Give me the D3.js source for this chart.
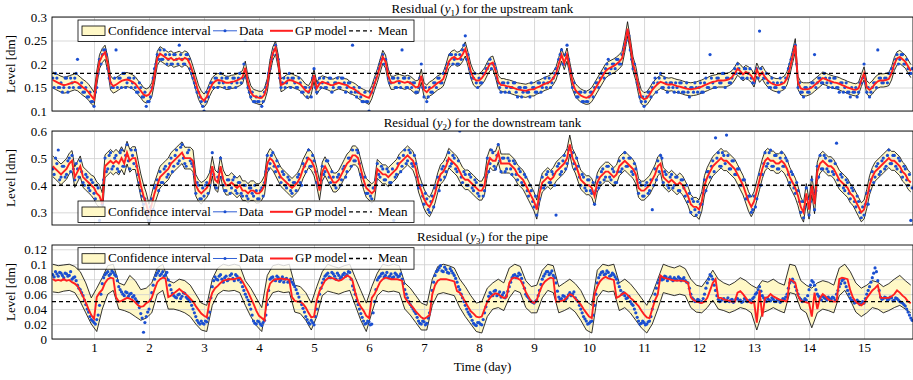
<!DOCTYPE html>
<html>
<head>
<meta charset="utf-8">
<script src="https://cdn.jsdelivr.net/npm/d3@7"></script>
<style>
  body { margin: 0; background: #fff; }
  svg { display: block; font-family: "Liberation Serif", "Times New Roman", serif; }
</style>
</head>
<body>
<div id="app"></div>
<script>
// residual series sampled every 0.05 day starting at day 0.25,
// the *Mid data arrays are the samples half a step later
const t0 = 0.25, dt = 0.05
// y3 confidence bounds sampled every 0.1 day starting at day 0.25
const tb0 = 0.25, dtb = 0.1

const dayTicks = [1, 2, 3, 4, 5, 6, 7, 8, 9, 10, 11, 12, 13, 14, 15]
const yTicks1 = [0.1, 0.15, 0.2, 0.25, 0.3]
const yTicks2 = [0.3, 0.4, 0.5, 0.6]
const yTicks3 = [0, 0.02, 0.04, 0.06, 0.08, 0.1, 0.12]
const mean1 = 0.18, mean2 = 0.40, mean3 = 0.05

// y1, upstream tank
const gp1 = [
  0.166,0.163,0.160,0.157,0.155,0.156,0.158,0.160,0.162,0.160,0.155,0.150,0.146,0.140,0.132,
  0.125,0.170,0.205,0.218,0.225,0.200,0.160,0.153,0.156,0.160,0.164,0.166,0.167,0.165,0.162,0.158,0.150,0.143,0.135,0.132,
  0.135,0.145,0.175,0.212,0.222,0.218,0.214,0.210,0.213,0.208,0.210,0.212,0.208,0.213,0.210,0.198,0.180,0.160,0.140,0.128,
  0.122,0.130,0.145,0.157,0.163,0.166,0.165,0.163,0.160,0.160,0.162,0.163,0.165,0.168,0.172,0.192,0.160,0.140,0.132,0.130,
  0.128,0.128,0.135,0.155,0.195,0.222,0.235,0.205,0.155,0.158,0.163,0.166,0.165,0.162,0.160,0.157,0.150,0.143,0.140,0.150,
  0.176,0.148,0.158,0.162,0.160,0.158,0.155,0.155,0.158,0.160,0.158,0.156,0.155,0.150,0.148,0.145,0.140,0.136,0.133,0.130,
  0.128,0.140,0.158,0.175,0.195,0.215,0.205,0.175,0.160,0.160,0.163,0.164,0.162,0.160,0.162,0.160,0.155,0.150,0.152,0.175,
  0.145,0.140,0.147,0.150,0.155,0.160,0.163,0.168,0.185,0.205,0.212,0.215,0.210,0.212,0.220,0.232,0.210,0.185,0.170,0.165,
  0.165,0.170,0.178,0.190,0.200,0.203,0.185,0.162,0.155,0.155,0.153,0.152,0.150,0.148,0.146,0.145,0.144,0.143,0.145,0.146,
  0.146,0.150,0.152,0.155,0.158,0.160,0.163,0.170,0.180,0.200,0.220,0.202,0.220,0.190,0.160,0.145,0.138,0.133,0.130,0.128,
  0.130,0.135,0.145,0.155,0.165,0.175,0.185,0.190,0.193,0.196,0.200,0.205,0.212,0.240,0.275,0.240,0.200,0.180,0.150,0.130,
  0.125,0.127,0.135,0.145,0.152,0.158,0.162,0.160,0.157,0.156,0.157,0.155,0.153,0.152,0.150,0.148,0.147,0.146,0.147,0.148,
  0.150,0.152,0.155,0.157,0.160,0.162,0.163,0.165,0.165,0.165,0.166,0.168,0.172,0.180,0.190,0.185,0.178,0.183,0.180,0.175,
  0.165,0.188,0.175,0.182,0.172,0.165,0.160,0.157,0.155,0.155,0.157,0.160,0.170,0.190,0.215,0.240,0.160,0.148,0.146,0.146,
  0.147,0.150,0.155,0.160,0.165,0.170,0.168,0.165,0.163,0.161,0.160,0.158,0.155,0.153,0.150,0.148,0.146,0.145,0.148,0.165,
  0.180,0.150,0.145,0.150,0.158,0.163,0.165,0.165,0.166,0.168,0.180,0.200,0.212,0.215,0.210,0.205,0.195,0.185
]
const data1 = [
  0.17,0.18,0.15,0.16,0.15,0.17,0.15,0.16,0.17,0.21,0.15,0.14,0.15,0.13,0.12,
  0.11,0.15,0.21,0.22,0.23,0.19,0.16,0.15,0.23,0.17,0.15,0.18,0.16,0.17,0.16,0.15,0.14,0.15,0.13,0.11,
  0.12,0.15,0.19,0.22,0.23,0.21,0.22,0.21,0.20,0.22,0.21,0.24,0.21,0.20,0.22,0.19,0.17,0.15,0.14,0.12,
  0.10,0.14,0.15,0.16,0.17,0.15,0.18,0.16,0.17,0.15,0.16,0.17,0.16,0.18,0.17,0.25,0.15,0.13,0.12,0.13,
  0.12,0.11,0.14,0.16,0.19,0.22,0.24,0.21,0.15,0.17,0.16,0.18,0.17,0.16,0.15,0.16,0.14,0.15,0.14,0.13,
  0.19,0.14,0.17,0.16,0.15,0.16,0.17,0.15,0.16,0.15,0.17,0.16,0.15,0.16,0.24,0.14,0.14,0.13,0.12,0.12,
  0.10,0.14,0.16,0.18,0.20,0.22,0.21,0.17,0.16,0.17,0.15,0.16,0.23,0.17,0.15,0.16,0.16,0.14,0.15,0.20,
  0.13,0.12,0.15,0.14,0.16,0.17,0.16,0.18,0.19,0.20,0.22,0.21,0.20,0.22,0.23,0.26,0.22,0.18,0.17,0.16,
  0.17,0.16,0.18,0.19,0.21,0.20,0.19,0.16,0.14,0.16,0.15,0.14,0.15,0.16,0.13,0.15,0.14,0.15,0.14,0.16,
  0.15,0.14,0.16,0.15,0.17,0.16,0.15,0.17,0.19,0.21,0.23,0.20,0.24,0.19,0.15,0.14,0.13,0.14,0.12,0.12,
  0.13,0.14,0.15,0.16,0.17,0.18,0.19,0.21,0.19,0.20,0.21,0.20,0.22,0.24,0.27,0.23,0.19,0.18,0.15,0.12,
  0.11,0.13,0.14,0.15,0.17,0.16,0.18,0.15,0.16,0.15,0.16,0.14,0.15,0.16,0.14,0.15,0.14,0.15,0.14,0.15,
  0.15,0.14,0.16,0.15,0.22,0.16,0.15,0.17,0.16,0.18,0.17,0.16,0.17,0.19,0.20,0.18,0.17,0.19,0.18,0.17,
  0.16,0.19,0.27,0.18,0.17,0.16,0.15,0.16,0.15,0.14,0.16,0.15,0.17,0.20,0.22,0.24,0.15,0.14,0.13,0.15,
  0.14,0.16,0.22,0.16,0.17,0.16,0.17,0.15,0.16,0.17,0.15,0.14,0.16,0.15,0.14,0.13,0.14,0.15,0.14,0.16,
  0.20,0.14,0.13,0.15,0.16,0.23,0.17,0.16,0.17,0.18,0.19,0.20,0.22,0.21,0.22,0.20,0.19,0.18
]
const data1Mid = [
  0.15,0.17,0.15,0.14,0.17,0.14,0.17,0.15,0.18,0.15,0.16,0.14,0.13,0.14,0.12,
  0.14,0.18,0.20,0.23,0.22,0.17,0.15,0.17,0.15,0.17,0.18,0.15,0.17,0.15,0.17,0.14,0.16,0.13,0.14,0.12,
  0.13,0.17,0.20,0.21,0.21,0.23,0.20,0.22,0.20,0.22,0.20,0.22,0.20,0.22,0.21,0.18,0.16,0.14,0.13,0.11,
  0.12,0.13,0.16,0.15,0.17,0.16,0.17,0.15,0.17,0.15,0.17,0.15,0.17,0.16,0.20,0.17,0.14,0.14,0.12,0.12,
  0.13,0.12,0.15,0.18,0.21,0.23,0.22,0.17,0.16,0.15,0.17,0.15,0.17,0.15,0.17,0.14,0.15,0.13,0.15,0.17,
  0.15,0.16,0.15,0.17,0.15,0.17,0.14,0.16,0.17,0.15,0.17,0.14,0.16,0.14,0.15,0.13,0.15,0.12,0.14,0.12,
  0.14,0.15,0.17,0.19,0.21,0.20,0.19,0.16,0.17,0.15,0.17,0.15,0.17,0.15,0.17,0.15,0.16,0.14,0.17,0.15,
  0.15,0.13,0.14,0.16,0.15,0.17,0.16,0.18,0.20,0.22,0.20,0.22,0.20,0.21,0.24,0.21,0.19,0.17,0.18,0.15,
  0.16,0.18,0.19,0.20,0.19,0.20,0.17,0.15,0.16,0.14,0.16,0.15,0.16,0.14,0.15,0.13,0.15,0.14,0.13,0.15,
  0.14,0.16,0.14,0.16,0.15,0.17,0.16,0.18,0.18,0.22,0.20,0.22,0.21,0.18,0.16,0.13,0.14,0.12,0.14,0.12,
  0.14,0.13,0.16,0.15,0.18,0.17,0.20,0.18,0.20,0.19,0.21,0.20,0.23,0.25,0.26,0.21,0.20,0.16,0.13,0.13,
  0.12,0.14,0.13,0.16,0.14,0.17,0.15,0.17,0.14,0.16,0.15,0.16,0.14,0.16,0.14,0.16,0.13,0.15,0.16,0.14,
  0.16,0.14,0.17,0.15,0.17,0.15,0.17,0.16,0.18,0.15,0.17,0.16,0.18,0.18,0.19,0.17,0.19,0.17,0.19,0.16,
  0.18,0.17,0.19,0.17,0.18,0.15,0.17,0.15,0.16,0.17,0.15,0.17,0.19,0.21,0.23,0.20,0.16,0.14,0.15,0.14,
  0.15,0.16,0.15,0.17,0.16,0.18,0.16,0.17,0.15,0.17,0.15,0.16,0.14,0.16,0.14,0.15,0.14,0.13,0.16,0.17,
  0.16,0.15,0.14,0.16,0.15,0.17,0.16,0.17,0.16,0.18,0.19,0.21,0.20,0.22,0.20,0.21,0.18,0.19
]
// confidence half-width of y1 for each day 0..15
const ci1 = [0.017,0.015,0.015,0.014,0.014,0.013,0.014,0.015,0.014,0.014,0.015,0.014,0.014,0.014,0.013,0.014]

// y2, downstream tank
const gp2 = [
  0.47,0.46,0.45,0.44,0.45,0.46,0.48,0.49,0.43,0.45,0.47,0.43,0.42,0.41,0.40,
  0.39,0.37,0.36,0.33,0.47,0.48,0.49,0.48,0.49,0.48,0.50,0.48,0.52,0.49,0.50,0.50,0.45,0.40,0.36,0.33,
  0.29,0.33,0.37,0.40,0.43,0.44,0.45,0.46,0.48,0.49,0.50,0.51,0.52,0.50,0.50,0.50,0.49,0.40,0.38,0.37,
  0.38,0.39,0.41,0.47,0.42,0.41,0.47,0.42,0.40,0.40,0.41,0.40,0.39,0.40,0.38,0.38,0.37,0.38,0.38,0.37,
  0.37,0.38,0.40,0.48,0.50,0.49,0.47,0.45,0.43,0.42,0.41,0.40,0.39,0.40,0.41,0.43,0.46,0.48,0.50,0.49,
  0.47,0.43,0.38,0.45,0.47,0.45,0.43,0.41,0.41,0.42,0.44,0.46,0.48,0.49,0.51,0.51,0.50,0.46,0.42,0.39,
  0.38,0.37,0.38,0.46,0.45,0.44,0.44,0.43,0.44,0.45,0.46,0.48,0.49,0.50,0.51,0.50,0.49,0.46,0.41,0.38,
  0.35,0.33,0.32,0.34,0.37,0.41,0.44,0.45,0.47,0.50,0.49,0.48,0.47,0.45,0.43,0.42,0.42,0.41,0.40,0.39,
  0.38,0.38,0.40,0.47,0.50,0.49,0.49,0.52,0.48,0.48,0.48,0.48,0.47,0.46,0.44,0.43,0.42,0.40,0.38,0.36,
  0.34,0.31,0.37,0.41,0.42,0.43,0.42,0.43,0.45,0.46,0.47,0.48,0.50,0.55,0.50,0.48,0.45,0.42,0.41,0.40,
  0.40,0.39,0.36,0.41,0.43,0.44,0.45,0.45,0.44,0.43,0.44,0.47,0.48,0.49,0.48,0.47,0.46,0.44,0.39,0.38,
  0.38,0.39,0.40,0.42,0.44,0.47,0.48,0.43,0.42,0.41,0.42,0.41,0.40,0.41,0.40,0.38,0.36,0.33,0.32,0.32,
  0.31,0.34,0.40,0.43,0.45,0.47,0.48,0.49,0.50,0.49,0.49,0.48,0.47,0.46,0.44,0.42,0.40,0.37,0.34,0.32,
  0.34,0.38,0.42,0.46,0.49,0.50,0.49,0.49,0.48,0.48,0.49,0.48,0.46,0.43,0.41,0.39,0.36,0.32,0.30,0.37,
  0.31,0.40,0.33,0.45,0.48,0.49,0.48,0.47,0.47,0.46,0.44,0.42,0.41,0.40,0.39,0.37,0.36,0.34,0.32,0.30,
  0.31,0.35,0.40,0.43,0.45,0.46,0.47,0.48,0.49,0.50,0.49,0.49,0.48,0.47,0.45,0.44,0.42,0.41
]
const data2 = [
  0.46,0.50,0.53,0.43,0.47,0.44,0.50,0.51,0.42,0.46,0.49,0.41,0.44,0.39,0.42,
  0.37,0.40,0.27,0.33,0.50,0.46,0.52,0.47,0.51,0.45,0.53,0.47,0.55,0.46,0.51,0.53,0.44,0.38,0.33,0.30,
  0.27,0.35,0.39,0.42,0.45,0.41,0.47,0.44,0.50,0.47,0.53,0.49,0.55,0.48,0.52,0.49,0.47,0.37,0.40,0.35,
  0.36,0.41,0.40,0.52,0.40,0.43,0.50,0.40,0.38,0.42,0.39,0.43,0.37,0.41,0.36,0.40,0.35,0.39,0.36,0.38,
  0.35,0.39,0.41,0.51,0.48,0.52,0.45,0.47,0.41,0.44,0.39,0.42,0.37,0.41,0.43,0.41,0.48,0.45,0.53,0.47,
  0.49,0.41,0.27,0.47,0.45,0.49,0.41,0.43,0.39,0.44,0.42,0.47,0.45,0.50,0.53,0.49,0.52,0.44,0.40,0.37,
  0.40,0.35,0.39,0.48,0.43,0.46,0.42,0.45,0.41,0.27,0.44,0.50,0.47,0.53,0.49,0.52,0.47,0.48,0.39,0.40,
  0.33,0.35,0.30,0.36,0.39,0.43,0.42,0.47,0.45,0.52,0.48,0.50,0.45,0.60,0.41,0.44,0.40,0.43,0.38,0.41,
  0.36,0.40,0.38,0.50,0.48,0.52,0.46,0.55,0.45,0.50,0.46,0.49,0.44,0.48,0.42,0.45,0.40,0.43,0.36,0.38,
  0.32,0.29,0.35,0.43,0.40,0.45,0.41,0.44,0.29,0.48,0.45,0.51,0.48,0.54,0.52,0.46,0.47,0.40,0.43,0.38,
  0.42,0.37,0.33,0.43,0.41,0.46,0.43,0.47,0.42,0.45,0.41,0.49,0.46,0.52,0.47,0.50,0.44,0.46,0.37,0.40,
  0.36,0.41,0.38,0.31,0.46,0.49,0.51,0.41,0.44,0.39,0.44,0.40,0.43,0.38,0.42,0.36,0.34,0.30,0.34,0.29,
  0.30,0.33,0.42,0.45,0.43,0.49,0.575,0.52,0.47,0.51,0.585,0.46,0.49,0.44,0.46,0.40,0.42,0.35,0.36,0.30,
  0.36,0.35,0.44,0.44,0.52,0.48,0.53,0.47,0.51,0.46,0.52,0.47,0.49,0.41,0.44,0.37,0.38,0.30,0.28,0.39,
  0.29,0.42,0.31,0.47,0.51,0.46,0.50,0.45,0.49,0.44,0.555,0.40,0.43,0.38,0.41,0.35,0.38,0.32,0.34,0.28,
  0.29,0.37,0.38,0.45,0.43,0.48,0.45,0.50,0.47,0.53,0.48,0.51,0.46,0.49,0.43,0.46,0.40,0.27
]
const data2Mid = [
  0.44,0.48,0.42,0.47,0.43,0.49,0.45,0.46,0.48,0.43,0.45,0.40,0.43,0.38,0.41,
  0.35,0.39,0.31,0.42,0.45,0.51,0.46,0.50,0.46,0.52,0.47,0.51,0.49,0.53,0.48,0.47,0.41,0.36,0.35,0.29,
  0.32,0.31,0.40,0.38,0.41,0.46,0.43,0.48,0.45,0.51,0.48,0.54,0.50,0.47,0.53,0.48,0.44,0.41,0.35,0.39,
  0.40,0.37,0.45,0.44,0.39,0.45,0.43,0.38,0.42,0.37,0.42,0.38,0.41,0.37,0.40,0.36,0.39,0.37,0.40,0.35,
  0.38,0.36,0.45,0.46,0.51,0.47,0.49,0.43,0.45,0.40,0.43,0.38,0.41,0.38,0.44,0.40,0.47,0.50,0.47,0.51,
  0.45,0.40,0.42,0.44,0.49,0.43,0.45,0.40,0.43,0.40,0.46,0.43,0.50,0.47,0.49,0.53,0.48,0.43,0.43,0.37,
  0.36,0.39,0.42,0.44,0.47,0.42,0.46,0.41,0.46,0.43,0.48,0.45,0.51,0.48,0.53,0.48,0.51,0.43,0.40,0.36,
  0.37,0.31,0.34,0.32,0.40,0.38,0.46,0.43,0.49,0.47,0.51,0.46,0.49,0.43,0.45,0.40,0.44,0.39,0.42,0.37,
  0.40,0.36,0.43,0.45,0.53,0.47,0.51,0.49,0.50,0.45,0.50,0.46,0.49,0.44,0.46,0.41,0.44,0.38,0.40,0.34,
  0.36,0.33,0.39,0.39,0.44,0.41,0.45,0.40,0.47,0.44,0.49,0.46,0.53,0.51,0.48,0.50,0.43,0.44,0.39,0.42,
  0.38,0.41,0.38,0.39,0.45,0.42,0.47,0.43,0.46,0.41,0.45,0.45,0.50,0.47,0.50,0.45,0.48,0.42,0.41,0.36,
  0.40,0.37,0.42,0.40,0.42,0.45,0.50,0.45,0.40,0.43,0.39,0.43,0.38,0.42,0.39,0.40,0.37,0.35,0.31,0.34,
  0.33,0.37,0.38,0.45,0.47,0.45,0.50,0.47,0.52,0.48,0.51,0.46,0.49,0.44,0.46,0.40,0.42,0.35,0.36,0.31,
  0.32,0.40,0.40,0.48,0.47,0.52,0.47,0.51,0.46,0.50,0.47,0.50,0.44,0.45,0.39,0.41,0.34,0.34,0.32,0.35,
  0.34,0.37,0.38,0.43,0.46,0.51,0.46,0.49,0.45,0.48,0.42,0.44,0.39,0.42,0.37,0.39,0.34,0.36,0.30,0.32,
  0.33,0.33,0.42,0.41,0.47,0.44,0.49,0.46,0.51,0.48,0.51,0.47,0.50,0.45,0.47,0.42,0.44,0.39
]
const ci2 = [0.038,0.042,0.040,0.036,0.035,0.035,0.035,0.036,0.035,0.035,0.035,0.035,0.036,0.036,0.035,0.035]

// y3, pipe
const gp3 = [
  0.080,0.078,0.079,0.078,0.080,0.078,0.079,0.076,0.074,0.071,0.064,0.057,0.049,0.040,0.032,
  0.027,0.056,0.062,0.066,0.075,0.080,0.082,0.081,0.056,0.050,0.051,0.053,0.055,0.054,0.052,0.049,0.045,0.043,0.044,0.048,
  0.050,0.055,0.066,0.076,0.080,0.082,0.081,0.056,0.058,0.061,0.064,0.067,0.064,0.061,0.058,0.054,0.050,0.044,0.039,0.034,
  0.031,0.029,0.050,0.062,0.068,0.071,0.075,0.078,0.079,0.080,0.080,0.080,0.081,0.082,0.077,0.070,0.063,0.055,0.047,0.038,
  0.031,0.028,0.025,0.062,0.074,0.078,0.080,0.080,0.081,0.080,0.080,0.079,0.056,0.051,0.050,0.050,0.047,0.042,0.035,0.029,
  0.030,0.052,0.064,0.071,0.078,0.081,0.082,0.081,0.079,0.078,0.079,0.082,0.085,0.083,0.078,0.062,0.050,0.043,0.038,0.031,
  0.028,0.055,0.060,0.068,0.076,0.080,0.082,0.081,0.080,0.080,0.080,0.079,0.078,0.056,0.050,0.046,0.042,0.037,0.033,0.029,
  0.027,0.029,0.032,0.060,0.072,0.078,0.080,0.080,0.080,0.079,0.078,0.077,0.064,0.062,0.056,0.050,0.043,0.037,0.034,0.030,
  0.029,0.030,0.040,0.050,0.055,0.059,0.061,0.060,0.057,0.055,0.056,0.075,0.081,0.082,0.081,0.079,0.072,0.063,0.056,0.050,
  0.048,0.052,0.063,0.072,0.077,0.080,0.082,0.081,0.050,0.050,0.051,0.052,0.056,0.060,0.058,0.054,0.050,0.046,0.040,0.035,
  0.030,0.028,0.060,0.070,0.077,0.081,0.083,0.081,0.080,0.079,0.055,0.057,0.060,0.062,0.059,0.055,0.052,0.048,0.044,0.038,
  0.033,0.029,0.028,0.040,0.052,0.060,0.085,0.082,0.081,0.080,0.079,0.078,0.078,0.078,0.078,0.077,0.075,0.056,0.052,0.050,
  0.049,0.048,0.050,0.055,0.065,0.075,0.080,0.055,0.055,0.053,0.052,0.051,0.050,0.050,0.062,0.064,0.060,0.055,0.050,0.048,
  0.050,0.022,0.065,0.030,0.055,0.056,0.060,0.057,0.055,0.053,0.052,0.051,0.050,0.080,0.078,0.075,0.058,0.051,0.050,0.049,
  0.048,0.030,0.062,0.040,0.055,0.060,0.057,0.053,0.051,0.050,0.050,0.080,0.082,0.081,0.080,0.065,0.055,0.050,0.047,0.045,
  0.048,0.055,0.060,0.065,0.068,0.072,0.055,0.055,0.055,0.055,0.057,0.060,0.065,0.062,0.058,0.055,0.050,0.048
]
const data3 = [
  0.086,0.090,0.084,0.088,0.082,0.087,0.085,0.080,0.083,0.072,0.066,0.058,0.046,0.036,0.026,
  0.022,0.026,0.045,0.074,0.086,0.090,0.087,0.089,0.084,0.070,0.063,0.058,0.062,0.060,0.056,0.054,0.048,0.034,0.009,0.030,
  0.040,0.062,0.080,0.088,0.085,0.090,0.086,0.079,0.066,0.058,0.055,0.060,0.057,0.061,0.054,0.050,0.040,0.030,0.022,0.024,
  0.020,0.023,0.036,0.070,0.083,0.079,0.086,0.076,0.084,0.080,0.087,0.078,0.084,0.081,0.070,0.060,0.052,0.040,0.024,0.020,
  0.023,0.018,0.025,0.046,0.080,0.083,0.078,0.082,0.079,0.076,0.081,0.078,0.076,0.070,0.061,0.050,0.041,0.030,0.022,0.025,
  0.019,0.040,0.060,0.075,0.084,0.088,0.082,0.087,0.080,0.085,0.083,0.088,0.086,0.089,0.071,0.060,0.046,0.034,0.024,0.021,
  0.023,0.020,0.050,0.079,0.084,0.088,0.085,0.082,0.087,0.083,0.086,0.084,0.080,0.066,0.055,0.046,0.040,0.034,0.024,0.020,
  0.023,0.021,0.035,0.065,0.085,0.092,0.098,0.090,0.093,0.088,0.091,0.085,0.076,0.066,0.055,0.045,0.036,0.030,0.021,0.018,
  0.022,0.019,0.035,0.050,0.062,0.058,0.065,0.060,0.056,0.062,0.058,0.070,0.082,0.086,0.084,0.086,0.075,0.060,0.055,0.050,
  0.048,0.052,0.065,0.080,0.087,0.090,0.088,0.085,0.075,0.056,0.054,0.057,0.055,0.062,0.060,0.055,0.050,0.040,0.030,0.024,
  0.021,0.024,0.045,0.075,0.086,0.090,0.087,0.089,0.085,0.086,0.080,0.070,0.060,0.058,0.055,0.050,0.045,0.035,0.024,0.021,
  0.022,0.020,0.024,0.040,0.060,0.075,0.082,0.080,0.083,0.081,0.080,0.082,0.079,0.081,0.080,0.078,0.075,0.060,0.053,0.051,
  0.052,0.050,0.060,0.075,0.086,0.080,0.065,0.053,0.051,0.054,0.052,0.050,0.053,0.051,0.054,0.052,0.050,0.053,0.051,0.050,
  0.056,0.062,0.070,0.058,0.052,0.054,0.051,0.053,0.050,0.052,0.051,0.053,0.060,0.075,0.080,0.070,0.060,0.053,0.051,0.052,
  0.066,0.078,0.072,0.060,0.055,0.057,0.054,0.056,0.053,0.055,0.060,0.070,0.078,0.075,0.065,0.055,0.051,0.049,0.050,0.047,
  0.048,0.060,0.070,0.082,0.095,0.078,0.056,0.054,0.055,0.053,0.055,0.052,0.054,0.050,0.048,0.044,0.036,0.028
]
const data3Mid = [
  0.083,0.087,0.089,0.085,0.088,0.084,0.090,0.082,0.078,0.068,0.062,0.052,0.040,0.030,0.024,
  0.020,0.032,0.060,0.082,0.088,0.085,0.091,0.086,0.078,0.066,0.060,0.063,0.057,0.061,0.058,0.051,0.042,0.028,0.022,0.036,
  0.052,0.072,0.085,0.091,0.087,0.084,0.089,0.072,0.061,0.056,0.059,0.054,0.062,0.056,0.052,0.045,0.035,0.025,0.020,0.021,
  0.024,0.028,0.055,0.078,0.080,0.084,0.080,0.082,0.078,0.085,0.081,0.086,0.079,0.076,0.065,0.056,0.046,0.032,0.021,0.024,
  0.020,0.022,0.032,0.065,0.082,0.079,0.084,0.077,0.083,0.080,0.076,0.080,0.073,0.066,0.056,0.046,0.036,0.026,0.020,0.022,
  0.030,0.050,0.068,0.080,0.086,0.083,0.089,0.084,0.088,0.081,0.086,0.084,0.090,0.080,0.066,0.052,0.040,0.029,0.020,0.024,
  0.019,0.035,0.066,0.082,0.087,0.083,0.089,0.084,0.082,0.088,0.083,0.087,0.074,0.060,0.050,0.043,0.037,0.029,0.021,0.024,
  0.019,0.028,0.050,0.076,0.090,0.095,0.091,0.096,0.089,0.094,0.088,0.081,0.070,0.060,0.050,0.040,0.033,0.025,0.019,0.022,
  0.020,0.026,0.043,0.057,0.060,0.064,0.058,0.063,0.059,0.055,0.064,0.076,0.085,0.082,0.088,0.081,0.068,0.057,0.052,0.049,
  0.050,0.058,0.073,0.084,0.090,0.086,0.091,0.082,0.064,0.053,0.058,0.053,0.059,0.058,0.063,0.052,0.045,0.035,0.027,0.020,
  0.023,0.032,0.060,0.082,0.089,0.086,0.091,0.084,0.088,0.083,0.075,0.065,0.062,0.054,0.057,0.047,0.040,0.029,0.020,0.024,
  0.019,0.023,0.030,0.050,0.068,0.079,0.079,0.084,0.078,0.083,0.078,0.080,0.083,0.078,0.082,0.076,0.068,0.055,0.050,0.053,
  0.049,0.054,0.068,0.080,0.084,0.072,0.058,0.050,0.053,0.050,0.055,0.052,0.049,0.054,0.051,0.049,0.054,0.050,0.052,0.054,
  0.060,0.066,0.064,0.055,0.050,0.052,0.055,0.050,0.053,0.049,0.054,0.056,0.068,0.078,0.076,0.065,0.055,0.050,0.054,0.058,
  0.072,0.076,0.066,0.057,0.052,0.055,0.052,0.054,0.056,0.052,0.065,0.074,0.080,0.070,0.060,0.052,0.048,0.052,0.046,0.050,
  0.054,0.065,0.076,0.088,0.090,0.065,0.053,0.056,0.052,0.056,0.051,0.055,0.052,0.049,0.046,0.040,0.032,0.025
]
const upper3 = [
  0.100,0.098,0.099,0.100,0.097,0.090,0.075,0.055,
  0.068,0.082,0.098,0.100,0.075,0.072,0.085,0.078,0.066,0.068,
  0.075,0.095,0.100,0.078,0.075,0.080,0.078,0.072,0.060,0.048,
  0.045,0.080,0.095,0.100,0.098,0.100,0.098,0.078,0.068,0.055,
  0.042,0.085,0.098,0.100,0.098,0.100,0.072,0.070,0.062,0.048,
  0.070,0.090,0.100,0.097,0.095,0.098,0.100,0.082,0.065,0.048,
  0.070,0.088,0.100,0.098,0.100,0.098,0.075,0.068,0.058,0.048,
  0.045,0.080,0.097,0.100,0.098,0.095,0.080,0.070,0.058,0.048,
  0.050,0.068,0.075,0.080,0.075,0.095,0.100,0.097,0.078,0.070,
  0.072,0.092,0.100,0.098,0.070,0.075,0.080,0.074,0.065,0.050,
  0.045,0.092,0.100,0.098,0.100,0.075,0.080,0.074,0.065,0.055,
  0.045,0.060,0.080,0.100,0.097,0.095,0.098,0.094,0.080,0.072,
  0.070,0.080,0.092,0.080,0.075,0.072,0.076,0.082,0.078,0.072,
  0.068,0.078,0.076,0.080,0.075,0.072,0.100,0.098,0.078,0.072,
  0.068,0.075,0.078,0.076,0.072,0.095,0.100,0.090,0.075,0.068,
  0.072,0.078,0.076,0.070,0.074,0.080,0.085,0.078,0.072
]
const lower3 = [
  0.063,0.062,0.064,0.065,0.062,0.050,0.035,0.020,
  0.010,0.040,0.060,0.065,0.040,0.038,0.035,0.030,0.025,0.028,
  0.035,0.060,0.065,0.040,0.040,0.038,0.035,0.030,0.020,0.012,
  0.010,0.045,0.060,0.065,0.064,0.065,0.062,0.045,0.030,0.018,
  0.010,0.050,0.062,0.064,0.062,0.063,0.036,0.034,0.025,0.012,
  0.030,0.058,0.064,0.062,0.060,0.063,0.065,0.045,0.025,0.010,
  0.035,0.058,0.065,0.063,0.064,0.062,0.040,0.032,0.022,0.012,
  0.012,0.045,0.060,0.062,0.060,0.058,0.042,0.030,0.020,0.010,
  0.008,0.030,0.040,0.042,0.038,0.055,0.065,0.062,0.042,0.035,
  0.035,0.055,0.065,0.062,0.035,0.038,0.042,0.036,0.025,0.012,
  0.008,0.055,0.065,0.063,0.064,0.038,0.042,0.035,0.025,0.015,
  0.008,0.020,0.040,0.062,0.060,0.058,0.060,0.058,0.042,0.036,
  0.035,0.042,0.052,0.040,0.038,0.035,0.038,0.042,0.040,0.035,
  0.012,0.035,0.038,0.042,0.038,0.035,0.062,0.060,0.040,0.035,
  0.015,0.035,0.040,0.038,0.035,0.058,0.065,0.052,0.036,0.030,
  0.035,0.042,0.040,0.035,0.038,0.042,0.045,0.040,0.035
]

const W = 913, H = 380
const left = 52, right = 913
const bandFill = "#fff8c6", blue = "#1b4fd1", red = "#ff2020"

const svg = d3.select("#app").append("svg")
  .attr("width", W)
  .attr("height", H)

const x = d3.scaleLinear().domain([0.236, 15.89]).range([left, right])
const tAt = i => t0 + i * dt

function bandFromCi(gp, ci) {
  return gp.map((v, i) => {
    const hw = ci[Math.floor(tAt(i) + 1e-9)]
    return { t: tAt(i), lo: v - hw, hi: v + hw }
  })
}
function points(a, b) {
  return a.map((v, i) => ({ t: tAt(i), v }))
    .concat(b.map((v, i) => ({ t: tAt(i) + dt / 2, v })))
}

const panels = [
  { sub: "1", rest: ") for the upstream tank", gp: gp1, data: points(data1, data1Mid), band: bandFromCi(gp1, ci1),
    mean: mean1, ticks: yTicks1, dom: [0.1, 0.3], top: 17, bot: 111, legY: 20 },
  { sub: "2", rest: ") for the downstream tank", gp: gp2, data: points(data2, data2Mid), band: bandFromCi(gp2, ci2),
    mean: mean2, ticks: yTicks2, dom: [0.2533, 0.6], top: 131, bot: 225, legY: 201 },
  { sub: "3", rest: ") for the pipe", gp: gp3, data: points(data3, data3Mid),
    band: upper3.map((v, i) => ({ t: tb0 + i * dtb, lo: lower3[i], hi: v })),
    mean: mean3, ticks: yTicks3, dom: [0, 0.1257], top: 245, bot: 339, legY: 247.7 }
]

panels.forEach((p, k) => {
  const y = d3.scaleLinear().domain(p.dom).range([p.bot, p.top])
  const h = p.bot - p.top

  svg.append("clipPath").attr("id", "clip" + k)
    .append("rect").attr("x", left).attr("y", p.top).attr("width", right - left).attr("height", h)

  const area = d3.area().x(d => x(d.t)).y0(d => y(d.lo)).y1(d => y(d.hi))
  const plot = svg.append("g").attr("clip-path", `url(#clip${k})`)

  plot.append("path").datum(p.band)
    .attr("d", area)
    .attr("fill", bandFill)

  // grid
  const grid = svg.append("g").attr("stroke-width", 0.8)
  grid.append("g")
    .attr("transform", `translate(0,${p.bot})`)
    .call(d3.axisBottom(x).tickValues(dayTicks).tickSize(-h).tickFormat(""))
    .call(g => g.select(".domain").remove())
    .selectAll("line").attr("stroke", "#cfcfcf")
  grid.append("g")
    .attr("transform", `translate(${left},0)`)
    .call(d3.axisLeft(y).tickValues(p.ticks).tickSize(-(right - left)).tickFormat(""))
    .call(g => g.select(".domain").remove())
    .selectAll("line").attr("stroke", "#cfcfcf")

  const plot2 = svg.append("g").attr("clip-path", `url(#clip${k})`)
  plot2.append("path").datum(p.band)
    .attr("d", d3.line().x(d => x(d.t)).y(d => y(d.hi)))
    .attr("fill", "none").attr("stroke", "#000").attr("stroke-width", 0.8)
  plot2.append("path").datum(p.band)
    .attr("d", d3.line().x(d => x(d.t)).y(d => y(d.lo)))
    .attr("fill", "none").attr("stroke", "#000").attr("stroke-width", 0.8)

  plot2.append("g").attr("fill", blue)
    .selectAll("circle")
    .data(p.data)
    .join("circle")
      .attr("cx", d => x(d.t))
      .attr("cy", d => y(d.v))
      .attr("r", 1.6)

  plot2.append("path").datum(p.gp)
    .attr("d", d3.line().x((d, i) => x(tAt(i))).y(d => y(d)))
    .attr("fill", "none").attr("stroke", red).attr("stroke-width", 1.9)

  plot2.append("line")
    .attr("x1", left).attr("x2", right)
    .attr("y1", y(p.mean)).attr("y2", y(p.mean))
    .attr("stroke", "#000").attr("stroke-width", 1.3).attr("stroke-dasharray", "4,3")

  // frame
  svg.append("rect")
    .attr("x", left).attr("y", p.top).attr("width", right - left).attr("height", h)
    .attr("fill", "none").attr("stroke", "#000").attr("stroke-width", 0.9)

  // y labels
  svg.append("g")
    .attr("transform", `translate(${left},0)`)
    .call(d3.axisLeft(y).tickValues(p.ticks).tickSize(0).tickPadding(5).tickFormat(String))
    .call(g => g.select(".domain").remove())
    .attr("font-family", null).attr("font-size", 13)

  svg.append("text")
    .attr("transform", `translate(15,${(p.top + p.bot) / 2}) rotate(-90)`)
    .attr("text-anchor", "middle")
    .attr("font-size", 13)
    .text("Level [dm]")

  // title
  const title = svg.append("text")
    .attr("x", (left + right) / 2).attr("y", p.top - 4)
    .attr("text-anchor", "middle").attr("font-size", 13)
  title.append("tspan").text("Residual (")
  title.append("tspan").attr("font-style", "italic").text("y")
  title.append("tspan").attr("font-size", 9).attr("dy", 3).text(p.sub)
  title.append("tspan").attr("dy", -3).text(p.rest)

  // legend
  const lg = svg.append("g").attr("transform", `translate(78,${p.legY})`).attr("font-size", 13)
  lg.append("rect").attr("width", 336).attr("height", 21.5)
    .attr("fill", "#fff").attr("fill-opacity", 0.8)
    .attr("stroke", "#000").attr("stroke-width", 0.8)
  lg.append("rect").attr("x", 4).attr("y", 6).attr("width", 23).attr("height", 9.5)
    .attr("fill", bandFill).attr("stroke", "#000").attr("stroke-width", 0.8)
  lg.append("text").attr("x", 30).attr("y", 14.8).text("Confidence interval")
  lg.append("line").attr("x1", 135).attr("x2", 159).attr("y1", 10.8).attr("y2", 10.8)
    .attr("stroke", blue).attr("stroke-width", 0.9)
  lg.append("circle").attr("cx", 147).attr("cy", 10.8).attr("r", 1.5).attr("fill", blue)
  lg.append("text").attr("x", 161).attr("y", 14.8).text("Data")
  lg.append("line").attr("x1", 192).attr("x2", 215).attr("y1", 10.8).attr("y2", 10.8)
    .attr("stroke", red).attr("stroke-width", 2)
  lg.append("text").attr("x", 217).attr("y", 14.8).text("GP model")
  lg.append("line").attr("x1", 271).attr("x2", 294).attr("y1", 10.8).attr("y2", 10.8)
    .attr("stroke", "#000").attr("stroke-width", 1.3).attr("stroke-dasharray", "4,3")
  lg.append("text").attr("x", 300).attr("y", 14.8).text("Mean")

  if (k === 2) {
    svg.append("g")
      .attr("transform", `translate(0,${p.bot})`)
      .call(d3.axisBottom(x).tickValues(dayTicks).tickSize(0).tickPadding(4))
      .call(g => g.select(".domain").remove())
      .attr("font-family", null).attr("font-size", 13)
  }
})

svg.append("text")
  .attr("x", (left + right) / 2).attr("y", 371)
  .attr("text-anchor", "middle").attr("font-size", 13)
  .text("Time (day)")
</script>
</body>
</html>
